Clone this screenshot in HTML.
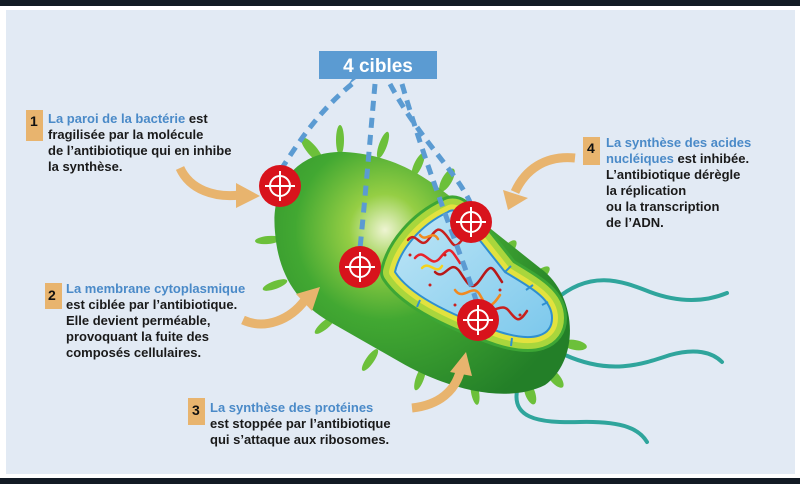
<!DOCTYPE html>
<html><head><meta charset="utf-8"><style>
body{margin:0;width:800px;height:484px;overflow:hidden;background:#fff;font-family:"Liberation Sans",sans-serif}
</style></head><body>
<svg width="800" height="484" viewBox="0 0 800 484" xmlns="http://www.w3.org/2000/svg">
<defs>
<radialGradient id="g1" gradientUnits="userSpaceOnUse" cx="385" cy="230" r="200">
<stop offset="0" stop-color="#eef4d2"/><stop offset="0.18" stop-color="#95ce44"/><stop offset="0.45" stop-color="#42a832"/><stop offset="1" stop-color="#237f28"/></radialGradient>
<linearGradient id="bl" x1="0" y1="0" x2="1" y2="1"><stop offset="0" stop-color="#bfe6f6"/><stop offset="1" stop-color="#7cc8ec"/></linearGradient>
</defs>
<rect width="800" height="484" fill="#fff"/>
<rect x="0" y="0" width="800" height="6" fill="#121a24"/>
<rect x="0" y="478" width="800" height="6" fill="#121a24"/>
<rect x="6" y="10" width="789" height="464" fill="#e2eaf4"/>
<g fill="none" stroke="#2fa59c" stroke-linecap="round">
<path d="M555 300 C590 270 620 280 650 292 C685 305 710 300 727 293" stroke-width="4"/>
<path d="M565 355 C610 375 640 365 670 355 C695 348 712 352 722 362" stroke-width="4"/>
<path d="M520 380 C505 420 540 423 580 422 C625 421 640 430 647 442" stroke-width="4"/>
</g>
<g fill="#6cc03a">
<ellipse cx="312" cy="150" rx="5" ry="16" transform="rotate(-40 312 150)"/>
<ellipse cx="340" cy="140" rx="4" ry="15"/>
<ellipse cx="383" cy="145" rx="4" ry="14" transform="rotate(20 383 145)"/>
<ellipse cx="418" cy="165" rx="4" ry="13" transform="rotate(25 418 165)"/>
<ellipse cx="447" cy="180" rx="5" ry="13" transform="rotate(30 447 180)"/>
<ellipse cx="508" cy="250" rx="5" ry="12" transform="rotate(40 508 250)"/>
<ellipse cx="540" cy="275" rx="5" ry="12" transform="rotate(50 540 275)"/>
<ellipse cx="575" cy="345" rx="5" ry="12" transform="rotate(-80 575 345)"/>
<ellipse cx="555" cy="378" rx="5" ry="12" transform="rotate(-40 555 378)"/>
<ellipse cx="530" cy="393" rx="5" ry="12" transform="rotate(-20 530 393)"/>
<ellipse cx="475" cy="392" rx="4" ry="13" transform="rotate(-10 475 392)"/>
<ellipse cx="420" cy="378" rx="4" ry="13" transform="rotate(20 420 378)"/>
<ellipse cx="370" cy="360" rx="4" ry="13" transform="rotate(35 370 360)"/>
<ellipse cx="325" cy="325" rx="4" ry="13" transform="rotate(50 325 325)"/>
<ellipse cx="275" cy="285" rx="4" ry="13" transform="rotate(70 275 285)"/>
<ellipse cx="268" cy="240" rx="4" ry="13" transform="rotate(85 268 240)"/>
</g>
<path d="M275 232 C270 182 300 150 345 152 C390 155 420 172 452 198 L540 268 C578 295 580 360 545 385 C505 405 445 388 400 362 L330 322 C295 302 278 272 275 232 Z" fill="url(#g1)"/>
<g stroke-linejoin="round">
<path d="M448 212 C420 225 400 250 395 272 C410 295 450 315 500 332 C535 343 552 335 552 318 C552 300 535 290 505 272 L462 218 C458 210 452 209 448 212Z" fill="#3da635" stroke="#3da635" stroke-width="30"/>
<path d="M448 212 C420 225 400 250 395 272 C410 295 450 315 500 332 C535 343 552 335 552 318 C552 300 535 290 505 272 L462 218 C458 210 452 209 448 212Z" fill="#a9d63c" stroke="#a9d63c" stroke-width="24"/>
<path d="M448 212 C420 225 400 250 395 272 C410 295 450 315 500 332 C535 343 552 335 552 318 C552 300 535 290 505 272 L462 218 C458 210 452 209 448 212Z" fill="#e2e23e" stroke="#e2e23e" stroke-width="12"/>
<path d="M448 212 C420 225 400 250 395 272 C410 295 450 315 500 332 C535 343 552 335 552 318 C552 300 535 290 505 272 L462 218 C458 210 452 209 448 212Z" fill="url(#bl)" stroke="#2f8fd0" stroke-width="2"/>
</g>
<g stroke="#2f8fd0" stroke-width="2"><path d="M505 272l6-6M526 290l7-5M542 305l6-3M470 325l-2 8M512 338l-1 8M420 300l-3 7"/></g>
<g fill="none" stroke-width="2.5" stroke-linecap="round">
<path d="M408 240 c8 -10 12 10 20 0 s10 -15 18 -5 s8 15 16 5" stroke="#c8201e"/>
<path d="M415 258 c10 -12 15 12 25 0 s10 -10 20 5" stroke="#e8232a"/>
<path d="M435 272 c10 10 15 -15 25 0 s12 20 22 5 s10 -10 20 5" stroke="#b81818"/>
<path d="M455 290 c8 12 18 -8 25 5 s10 15 20 0" stroke="#f08a20"/>
<path d="M422 268 c8 -8 14 8 20 -2" stroke="#f4d21e"/>
<path d="M485 305 c8 12 16 -4 24 6 s10 12 18 0" stroke="#c8201e"/>
<path d="M420 235 c6 8 12 -6 18 4" stroke="#f08a20"/>
</g>
<g fill="#c8201e"><circle cx="410" cy="255" r="1.5"/><circle cx="430" cy="285" r="1.5"/><circle cx="445" cy="255" r="1.5"/><circle cx="500" cy="290" r="1.5"/><circle cx="520" cy="315" r="1.5"/><circle cx="455" cy="305" r="1.5"/></g>
<g fill="none" stroke="#5b9bd2" stroke-width="5" stroke-dasharray="10 7">
<path d="M352 84 C320 110 300 140 282 168"/>
<path d="M375 84 C370 140 365 200 360 248"/>
<path d="M390 84 C420 140 455 170 470 202"/>
<path d="M402 84 C430 180 460 250 476 300"/>
</g>
<rect x="319" y="51" width="118" height="28" fill="#5b9bd2"/>
<path d="M352 79 l-4 6 l8 -6z" fill="#5b9bd2"/>
<text x="378" y="72" text-anchor="middle" font-size="19" font-weight="bold" fill="#fff">4 cibles</text>
<g>
<circle cx="280" cy="186" r="21" fill="#d8131c"/><circle cx="280" cy="186" r="10" fill="none" stroke="#fff" stroke-width="2"/><path d="M280 171v30M265 186h30" stroke="#fff" stroke-width="2"/>
<circle cx="471" cy="222" r="21" fill="#d8131c"/><circle cx="471" cy="222" r="10" fill="none" stroke="#fff" stroke-width="2"/><path d="M471 207v30M456 222h30" stroke="#fff" stroke-width="2"/>
<circle cx="360" cy="267" r="21" fill="#d8131c"/><circle cx="360" cy="267" r="10" fill="none" stroke="#fff" stroke-width="2"/><path d="M360 252v30M345 267h30" stroke="#fff" stroke-width="2"/>
<circle cx="478" cy="320" r="21" fill="#d8131c"/><circle cx="478" cy="320" r="10" fill="none" stroke="#fff" stroke-width="2"/><path d="M478 305v30M463 320h30" stroke="#fff" stroke-width="2"/>
</g>
<g fill="none" stroke="#e8b46e" stroke-width="9">
<path d="M180 168 C190 190 215 198 240 195"/>
<path d="M243 320 C265 330 290 320 305 300"/>
<path d="M412 408 C440 405 455 390 460 372"/>
<path d="M575 158 C545 155 525 170 515 192"/>
</g>
<g fill="#e8b46e">
<path d="M236 183 L260 196 L236 208z"/>
<path d="M296 294 L320 287 L312 311z"/>
<path d="M450 372 L466 352 L472 376z"/>
<path d="M503 190 L508 210 L528 198z"/>
</g>
<g fill="#e8b46e"><rect x="26" y="110" width="17" height="31"/><rect x="45" y="283" width="17" height="26"/><rect x="188" y="398" width="17" height="27"/><rect x="583" y="137" width="17" height="28"/></g>
<g font-size="14" font-weight="bold" fill="#111"><text x="30" y="126">1</text><text x="48" y="300">2</text><text x="192" y="415">3</text><text x="587" y="153">4</text></g>
<g font-size="13" font-weight="bold" fill="#1a1a1a">
<text x="48" y="123"><tspan fill="#4a8ac8">La paroi de la bactérie</tspan> est</text>
<text x="48" y="139">fragilisée par la molécule</text>
<text x="48" y="155">de l’antibiotique qui en inhibe</text>
<text x="48" y="171">la synthèse.</text>
<text x="66" y="293" fill="#4a8ac8">La membrane cytoplasmique</text>
<text x="66" y="309">est ciblée par l’antibiotique.</text>
<text x="66" y="325">Elle devient perméable,</text>
<text x="66" y="341">provoquant la fuite des</text>
<text x="66" y="357">composés cellulaires.</text>
<text x="210" y="412" fill="#4a8ac8">La synthèse des protéines</text>
<text x="210" y="428">est stoppée par l’antibiotique</text>
<text x="210" y="444">qui s’attaque aux ribosomes.</text>
<text x="606" y="147" fill="#4a8ac8">La synthèse des acides</text>
<text x="606" y="163"><tspan fill="#4a8ac8">nucléiques</tspan> est inhibée.</text>
<text x="606" y="179">L’antibiotique dérègle</text>
<text x="606" y="195">la réplication</text>
<text x="606" y="211">ou la transcription</text>
<text x="606" y="227">de l’ADN.</text>
</g>
</svg>
</body></html>
